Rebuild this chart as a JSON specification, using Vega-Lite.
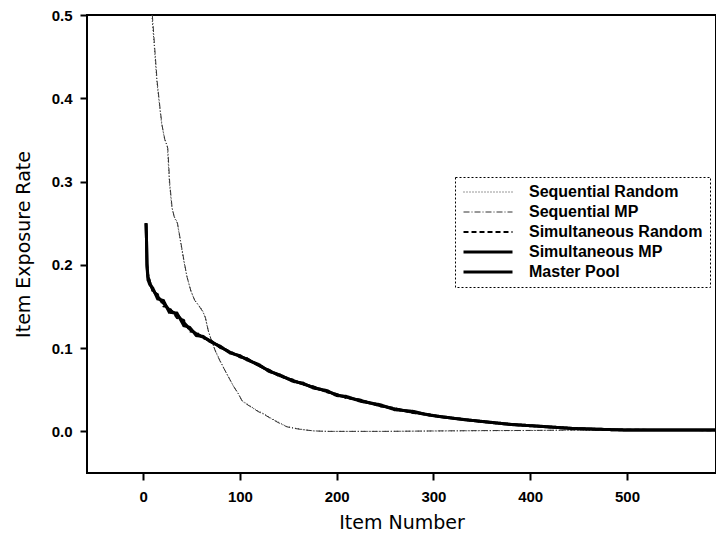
{
  "$schema": "https://vega.github.io/schema/vega-lite/v6.json",
  "width": 629,
  "height": 458,
  "autosize": {"type": "none"},
  "padding": {"left": 87, "top": 15, "right": 0, "bottom": 69},
  "config": {
    "view": {"stroke": "#000", "strokeWidth": 2},
    "axis": {
      "domain": false,
      "grid": false,
      "tickSize": 7,
      "tickWidth": 2,
      "tickColor": "#000",
      "labelFont": "Liberation Sans",
      "labelFontWeight": "bold",
      "labelFontSize": 15,
      "labelColor": "#000",
      "titleFont": "DejaVu Sans",
      "titleFontWeight": "normal",
      "titleFontSize": 19,
      "titleColor": "#000"
    },
    "legend": {
      "symbolType": "stroke",
      "symbolSize": 2401,
      "clipHeight": 16,
      "rowPadding": 4,
      "labelFont": "Liberation Sans",
      "labelFontWeight": "bold",
      "labelFontSize": 16,
      "labelColor": "#000",
      "labelOffset": 15,
      "labelLimit": 300,
      "padding": 7,
      "strokeColor": "#000",
      "strokeDash": [2, 2],
      "symbolStrokeColor": "#000"
    }
  },
  "data": {
    "values": [
      {"series": "Sequential Random", "item": 9, "rate": 0.5},
      {"series": "Sequential Random", "item": 12, "rate": 0.455},
      {"series": "Sequential Random", "item": 14, "rate": 0.422},
      {"series": "Sequential Random", "item": 17, "rate": 0.39},
      {"series": "Sequential Random", "item": 19, "rate": 0.37},
      {"series": "Sequential Random", "item": 22, "rate": 0.352},
      {"series": "Sequential Random", "item": 25, "rate": 0.343},
      {"series": "Sequential Random", "item": 27, "rate": 0.3},
      {"series": "Sequential Random", "item": 29.5, "rate": 0.27},
      {"series": "Sequential Random", "item": 32, "rate": 0.258},
      {"series": "Sequential Random", "item": 35, "rate": 0.252},
      {"series": "Sequential Random", "item": 38, "rate": 0.232},
      {"series": "Sequential Random", "item": 42, "rate": 0.205},
      {"series": "Sequential Random", "item": 45, "rate": 0.187},
      {"series": "Sequential Random", "item": 49, "rate": 0.17},
      {"series": "Sequential Random", "item": 53, "rate": 0.158},
      {"series": "Sequential Random", "item": 57, "rate": 0.152},
      {"series": "Sequential Random", "item": 61, "rate": 0.146},
      {"series": "Sequential Random", "item": 64, "rate": 0.138},
      {"series": "Sequential Random", "item": 67, "rate": 0.122},
      {"series": "Sequential Random", "item": 71, "rate": 0.108},
      {"series": "Sequential Random", "item": 75, "rate": 0.096},
      {"series": "Sequential Random", "item": 80, "rate": 0.084},
      {"series": "Sequential Random", "item": 86, "rate": 0.07},
      {"series": "Sequential Random", "item": 93, "rate": 0.055},
      {"series": "Sequential Random", "item": 98, "rate": 0.046},
      {"series": "Sequential Random", "item": 102, "rate": 0.037},
      {"series": "Sequential Random", "item": 110, "rate": 0.031},
      {"series": "Sequential Random", "item": 118, "rate": 0.025},
      {"series": "Sequential Random", "item": 125, "rate": 0.021},
      {"series": "Sequential Random", "item": 132, "rate": 0.016},
      {"series": "Sequential Random", "item": 140, "rate": 0.011},
      {"series": "Sequential Random", "item": 148, "rate": 0.006},
      {"series": "Sequential Random", "item": 156, "rate": 0.004},
      {"series": "Sequential Random", "item": 166, "rate": 0.002},
      {"series": "Sequential Random", "item": 176, "rate": 0.0006},
      {"series": "Sequential Random", "item": 190, "rate": 0.0},
      {"series": "Sequential Random", "item": 250, "rate": 0.0},
      {"series": "Sequential Random", "item": 300, "rate": 0.0004},
      {"series": "Sequential Random", "item": 350, "rate": 0.0008},
      {"series": "Sequential Random", "item": 400, "rate": 0.001},
      {"series": "Sequential Random", "item": 450, "rate": 0.0015},
      {"series": "Sequential Random", "item": 490, "rate": 0.002},

      {"series": "Sequential MP", "item": 9.5, "rate": 0.5},
      {"series": "Sequential MP", "item": 12.5, "rate": 0.452},
      {"series": "Sequential MP", "item": 14.5, "rate": 0.42},
      {"series": "Sequential MP", "item": 17.5, "rate": 0.388},
      {"series": "Sequential MP", "item": 19.5, "rate": 0.368},
      {"series": "Sequential MP", "item": 22.5, "rate": 0.35},
      {"series": "Sequential MP", "item": 25.5, "rate": 0.34},
      {"series": "Sequential MP", "item": 27.5, "rate": 0.298},
      {"series": "Sequential MP", "item": 30, "rate": 0.268},
      {"series": "Sequential MP", "item": 32.5, "rate": 0.256},
      {"series": "Sequential MP", "item": 35.5, "rate": 0.25},
      {"series": "Sequential MP", "item": 38.5, "rate": 0.23},
      {"series": "Sequential MP", "item": 42.5, "rate": 0.203},
      {"series": "Sequential MP", "item": 45.5, "rate": 0.185},
      {"series": "Sequential MP", "item": 49.5, "rate": 0.168},
      {"series": "Sequential MP", "item": 53.5, "rate": 0.157},
      {"series": "Sequential MP", "item": 57.5, "rate": 0.151},
      {"series": "Sequential MP", "item": 61.5, "rate": 0.144},
      {"series": "Sequential MP", "item": 64.5, "rate": 0.136},
      {"series": "Sequential MP", "item": 67.5, "rate": 0.12},
      {"series": "Sequential MP", "item": 71.5, "rate": 0.106},
      {"series": "Sequential MP", "item": 75.5, "rate": 0.094},
      {"series": "Sequential MP", "item": 80.5, "rate": 0.082},
      {"series": "Sequential MP", "item": 86.5, "rate": 0.069},
      {"series": "Sequential MP", "item": 93.5, "rate": 0.054},
      {"series": "Sequential MP", "item": 98.5, "rate": 0.045},
      {"series": "Sequential MP", "item": 102.5, "rate": 0.036},
      {"series": "Sequential MP", "item": 110.5, "rate": 0.03},
      {"series": "Sequential MP", "item": 118.5, "rate": 0.024},
      {"series": "Sequential MP", "item": 125.5, "rate": 0.02},
      {"series": "Sequential MP", "item": 132.5, "rate": 0.015},
      {"series": "Sequential MP", "item": 140.5, "rate": 0.01},
      {"series": "Sequential MP", "item": 148.5, "rate": 0.0055},
      {"series": "Sequential MP", "item": 156.5, "rate": 0.0035},
      {"series": "Sequential MP", "item": 166.5, "rate": 0.0018},
      {"series": "Sequential MP", "item": 177, "rate": 0.0005},
      {"series": "Sequential MP", "item": 190, "rate": 0.0},
      {"series": "Sequential MP", "item": 250, "rate": 0.0},
      {"series": "Sequential MP", "item": 300, "rate": 0.0005},
      {"series": "Sequential MP", "item": 350, "rate": 0.0009},
      {"series": "Sequential MP", "item": 400, "rate": 0.0011},
      {"series": "Sequential MP", "item": 450, "rate": 0.0016},
      {"series": "Sequential MP", "item": 490, "rate": 0.0021},

      {"series": "Simultaneous Random", "item": 3, "rate": 0.25},
      {"series": "Simultaneous Random", "item": 3.5, "rate": 0.23},
      {"series": "Simultaneous Random", "item": 4, "rate": 0.202},
      {"series": "Simultaneous Random", "item": 5, "rate": 0.189},
      {"series": "Simultaneous Random", "item": 7, "rate": 0.18},
      {"series": "Simultaneous Random", "item": 10, "rate": 0.167},
      {"series": "Simultaneous Random", "item": 15, "rate": 0.165},
      {"series": "Simultaneous Random", "item": 21, "rate": 0.15},
      {"series": "Simultaneous Random", "item": 27, "rate": 0.149},
      {"series": "Simultaneous Random", "item": 35, "rate": 0.136},
      {"series": "Simultaneous Random", "item": 42, "rate": 0.134},
      {"series": "Simultaneous Random", "item": 48, "rate": 0.12},
      {"series": "Simultaneous Random", "item": 55, "rate": 0.119},
      {"series": "Simultaneous Random", "item": 62, "rate": 0.112},
      {"series": "Simultaneous Random", "item": 69, "rate": 0.11},
      {"series": "Simultaneous Random", "item": 80, "rate": 0.1},
      {"series": "Simultaneous Random", "item": 90, "rate": 0.096},
      {"series": "Simultaneous Random", "item": 100, "rate": 0.089},
      {"series": "Simultaneous Random", "item": 107, "rate": 0.088},
      {"series": "Simultaneous Random", "item": 120, "rate": 0.078},
      {"series": "Simultaneous Random", "item": 130, "rate": 0.074},
      {"series": "Simultaneous Random", "item": 141, "rate": 0.066},
      {"series": "Simultaneous Random", "item": 155, "rate": 0.062},
      {"series": "Simultaneous Random", "item": 165, "rate": 0.056},
      {"series": "Simultaneous Random", "item": 176, "rate": 0.054},
      {"series": "Simultaneous Random", "item": 190, "rate": 0.047},
      {"series": "Simultaneous Random", "item": 200, "rate": 0.045},
      {"series": "Simultaneous Random", "item": 210, "rate": 0.04},
      {"series": "Simultaneous Random", "item": 225, "rate": 0.038},
      {"series": "Simultaneous Random", "item": 245, "rate": 0.03},
      {"series": "Simultaneous Random", "item": 260, "rate": 0.028},
      {"series": "Simultaneous Random", "item": 279, "rate": 0.022},
      {"series": "Simultaneous Random", "item": 295, "rate": 0.0205},
      {"series": "Simultaneous Random", "item": 307, "rate": 0.0172},
      {"series": "Simultaneous Random", "item": 330, "rate": 0.0148},
      {"series": "Simultaneous Random", "item": 348, "rate": 0.0118},
      {"series": "Simultaneous Random", "item": 380, "rate": 0.0086},
      {"series": "Simultaneous Random", "item": 410, "rate": 0.0058},
      {"series": "Simultaneous Random", "item": 444, "rate": 0.0037},
      {"series": "Simultaneous Random", "item": 470, "rate": 0.0026},
      {"series": "Simultaneous Random", "item": 493, "rate": 0.0019},
      {"series": "Simultaneous Random", "item": 540, "rate": 0.0017},
      {"series": "Simultaneous Random", "item": 592, "rate": 0.0014},

      {"series": "Simultaneous MP", "item": 3, "rate": 0.25},
      {"series": "Simultaneous MP", "item": 3.5, "rate": 0.23},
      {"series": "Simultaneous MP", "item": 4, "rate": 0.2},
      {"series": "Simultaneous MP", "item": 5, "rate": 0.186},
      {"series": "Simultaneous MP", "item": 7, "rate": 0.178},
      {"series": "Simultaneous MP", "item": 10, "rate": 0.17},
      {"series": "Simultaneous MP", "item": 15, "rate": 0.162},
      {"series": "Simultaneous MP", "item": 21, "rate": 0.154},
      {"series": "Simultaneous MP", "item": 27, "rate": 0.146},
      {"series": "Simultaneous MP", "item": 35, "rate": 0.14},
      {"series": "Simultaneous MP", "item": 42, "rate": 0.131},
      {"series": "Simultaneous MP", "item": 48, "rate": 0.123},
      {"series": "Simultaneous MP", "item": 55, "rate": 0.117},
      {"series": "Simultaneous MP", "item": 62, "rate": 0.113},
      {"series": "Simultaneous MP", "item": 69, "rate": 0.109},
      {"series": "Simultaneous MP", "item": 80, "rate": 0.101},
      {"series": "Simultaneous MP", "item": 90, "rate": 0.095},
      {"series": "Simultaneous MP", "item": 100, "rate": 0.09},
      {"series": "Simultaneous MP", "item": 107, "rate": 0.087},
      {"series": "Simultaneous MP", "item": 120, "rate": 0.079},
      {"series": "Simultaneous MP", "item": 130, "rate": 0.073},
      {"series": "Simultaneous MP", "item": 141, "rate": 0.067},
      {"series": "Simultaneous MP", "item": 155, "rate": 0.061},
      {"series": "Simultaneous MP", "item": 165, "rate": 0.057},
      {"series": "Simultaneous MP", "item": 176, "rate": 0.053},
      {"series": "Simultaneous MP", "item": 190, "rate": 0.048},
      {"series": "Simultaneous MP", "item": 200, "rate": 0.044},
      {"series": "Simultaneous MP", "item": 210, "rate": 0.041},
      {"series": "Simultaneous MP", "item": 225, "rate": 0.037},
      {"series": "Simultaneous MP", "item": 245, "rate": 0.031},
      {"series": "Simultaneous MP", "item": 260, "rate": 0.027},
      {"series": "Simultaneous MP", "item": 279, "rate": 0.023},
      {"series": "Simultaneous MP", "item": 295, "rate": 0.02},
      {"series": "Simultaneous MP", "item": 307, "rate": 0.0176},
      {"series": "Simultaneous MP", "item": 330, "rate": 0.0145},
      {"series": "Simultaneous MP", "item": 348, "rate": 0.012},
      {"series": "Simultaneous MP", "item": 380, "rate": 0.0084},
      {"series": "Simultaneous MP", "item": 410, "rate": 0.006},
      {"series": "Simultaneous MP", "item": 444, "rate": 0.0035},
      {"series": "Simultaneous MP", "item": 470, "rate": 0.0025},
      {"series": "Simultaneous MP", "item": 493, "rate": 0.0018},
      {"series": "Simultaneous MP", "item": 540, "rate": 0.0016},
      {"series": "Simultaneous MP", "item": 592, "rate": 0.0015},

      {"series": "Master Pool", "item": 3, "rate": 0.25},
      {"series": "Master Pool", "item": 3.5, "rate": 0.23},
      {"series": "Master Pool", "item": 4, "rate": 0.198},
      {"series": "Master Pool", "item": 5, "rate": 0.182},
      {"series": "Master Pool", "item": 7, "rate": 0.176},
      {"series": "Master Pool", "item": 10, "rate": 0.172},
      {"series": "Master Pool", "item": 15, "rate": 0.159},
      {"series": "Master Pool", "item": 21, "rate": 0.157},
      {"series": "Master Pool", "item": 27, "rate": 0.143},
      {"series": "Master Pool", "item": 35, "rate": 0.142},
      {"series": "Master Pool", "item": 42, "rate": 0.127},
      {"series": "Master Pool", "item": 48, "rate": 0.125},
      {"series": "Master Pool", "item": 55, "rate": 0.115},
      {"series": "Master Pool", "item": 62, "rate": 0.114},
      {"series": "Master Pool", "item": 69, "rate": 0.108},
      {"series": "Master Pool", "item": 80, "rate": 0.102},
      {"series": "Master Pool", "item": 90, "rate": 0.094},
      {"series": "Master Pool", "item": 100, "rate": 0.091},
      {"series": "Master Pool", "item": 107, "rate": 0.086},
      {"series": "Master Pool", "item": 120, "rate": 0.08},
      {"series": "Master Pool", "item": 130, "rate": 0.072},
      {"series": "Master Pool", "item": 141, "rate": 0.068},
      {"series": "Master Pool", "item": 155, "rate": 0.06},
      {"series": "Master Pool", "item": 165, "rate": 0.058},
      {"series": "Master Pool", "item": 176, "rate": 0.052},
      {"series": "Master Pool", "item": 190, "rate": 0.049},
      {"series": "Master Pool", "item": 200, "rate": 0.043},
      {"series": "Master Pool", "item": 210, "rate": 0.042},
      {"series": "Master Pool", "item": 225, "rate": 0.036},
      {"series": "Master Pool", "item": 245, "rate": 0.032},
      {"series": "Master Pool", "item": 260, "rate": 0.026},
      {"series": "Master Pool", "item": 279, "rate": 0.024},
      {"series": "Master Pool", "item": 295, "rate": 0.0195},
      {"series": "Master Pool", "item": 307, "rate": 0.0179},
      {"series": "Master Pool", "item": 330, "rate": 0.0142},
      {"series": "Master Pool", "item": 348, "rate": 0.0123},
      {"series": "Master Pool", "item": 380, "rate": 0.0082},
      {"series": "Master Pool", "item": 410, "rate": 0.0062},
      {"series": "Master Pool", "item": 444, "rate": 0.0034},
      {"series": "Master Pool", "item": 470, "rate": 0.0026},
      {"series": "Master Pool", "item": 493, "rate": 0.0017},
      {"series": "Master Pool", "item": 540, "rate": 0.0016},
      {"series": "Master Pool", "item": 592, "rate": 0.0016}
    ]
  },
  "mark": {"type": "line", "clip": true},
  "encoding": {
    "x": {
      "field": "item",
      "type": "quantitative",
      "scale": {"domain": [-58, 592], "nice": false, "zero": false},
      "axis": {"values": [0, 100, 200, 300, 400, 500], "title": "Item Number", "labelPadding": 9, "titlePadding": 9}
    },
    "y": {
      "field": "rate",
      "type": "quantitative",
      "scale": {"domain": [-0.05, 0.5], "nice": false, "zero": false},
      "axis": {"values": [0, 0.1, 0.2, 0.3, 0.4, 0.5], "format": ".1f", "title": "Item Exposure Rate", "labelPadding": 8, "titlePadding": 18}
    },
    "color": {
      "field": "series",
      "type": "nominal",
      "scale": {
        "domain": ["Sequential Random", "Sequential MP", "Simultaneous Random", "Simultaneous MP", "Master Pool"],
        "range": ["#333", "#333", "#000", "#000", "#000"]
      },
      "legend": {"title": null, "orient": "none", "legendX": 368, "legendY": 162}
    },
    "strokeDash": {
      "field": "series",
      "type": "nominal",
      "scale": {
        "domain": ["Sequential Random", "Sequential MP", "Simultaneous Random", "Simultaneous MP", "Master Pool"],
        "range": [[1, 2], [6, 2, 1, 2], [5, 3], [1, 0], [1, 0]]
      },
      "legend": {"title": null, "orient": "none", "legendX": 368, "legendY": 162}
    },
    "strokeWidth": {
      "field": "series",
      "type": "ordinal",
      "scale": {
        "type": "ordinal",
        "domain": ["Sequential Random", "Sequential MP", "Simultaneous Random", "Simultaneous MP", "Master Pool"],
        "range": [1, 1, 2, 3, 3]
      },
      "legend": null
    }
  }
}
